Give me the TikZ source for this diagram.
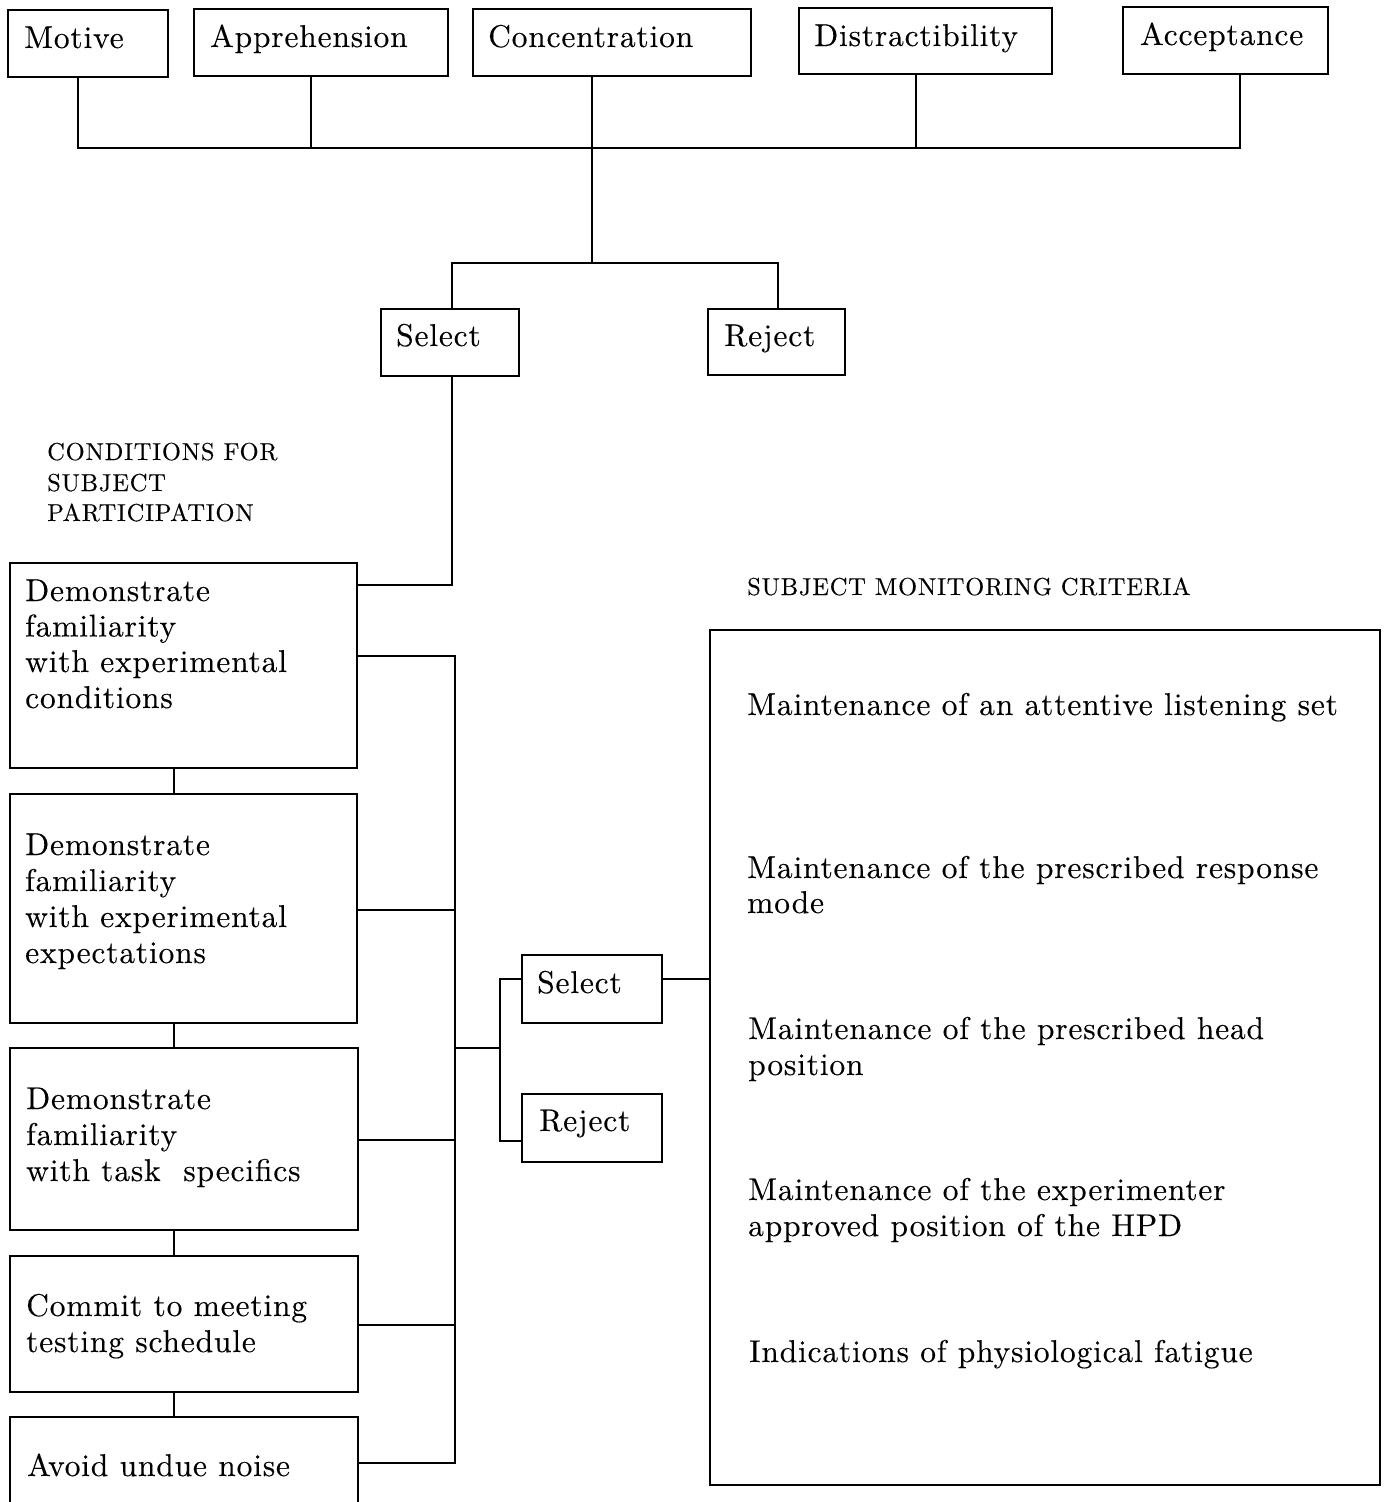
\documentclass[tikz,border=0pt]{standalone}
\usepackage{fontspec}
\newfontfamily\bodyfont{lmroman10-regular.otf}[LetterSpace=2.6,FakeBold=0.2]
\newfontfamily\labelfont{lmroman10-regular.otf}[LetterSpace=3.2,FakeBold=0.2]
\begin{document}
\begin{tikzpicture}[x=1pt,y=-1pt,
  box/.style={draw,line width=1.8pt,rectangle,inner sep=0pt,outer sep=0pt,anchor=north west},
  txt/.style={anchor=base west,inner sep=0pt,font=\bodyfont\fontsize{31.5}{36}\selectfont},
  lbl/.style={anchor=base west,inner sep=0pt,font=\labelfont\fontsize{24.5}{30}\selectfont},
  conn/.style={line width=1.8pt}]
\clip (0,0) rectangle (1387,1502);
% top boxes
\node[box,minimum width=160pt,minimum height=67pt] (motive) at (8,10) {};
\node[box,minimum width=254pt,minimum height=67pt] (appr) at (194,9) {};
\node[box,minimum width=278pt,minimum height=67pt] (conc) at (473,9) {};
\node[box,minimum width=253pt,minimum height=66pt] (distr) at (799,8) {};
\node[box,minimum width=205pt,minimum height=67pt] (accept) at (1123,7) {};
\node[txt] (tmotive) at (24,48) {Motive};
\node[txt] (tappr) at (210,47) {Apprehension};
\node[txt] (tconc) at (488,47) {Concentration};
\node[txt] (tdistr) at (814,46) {Distractibility};
\node[txt] (taccept) at (1140,45) {Acceptance};
% first select / reject
\node[box,minimum width=138pt,minimum height=67pt] (sel1) at (381,309) {};
\node[box,minimum width=137pt,minimum height=66pt] (rej1) at (708,309) {};
\node[txt] (tsel1) at (396,346) {Select};
\node[txt] (trej1) at (724,346) {Reject};
% labels
\node[lbl] (lc1) at (47,460) {CONDITIONS FOR};
\node[lbl] (lc2) at (47,491) {SUBJECT};
\node[lbl] (lc3) at (47,521) {PARTICIPATION};
\node[lbl] (lm) at (747,595) {SUBJECT MONITORING CRITERIA};
% left column
\node[box,minimum width=347pt,minimum height=205pt] (b1) at (10,563) {};
\node[box,minimum width=347pt,minimum height=229pt] (b2) at (10,794) {};
\node[box,minimum width=348pt,minimum height=182pt] (b3) at (10,1048) {};
\node[box,minimum width=348pt,minimum height=136pt] (b4) at (10,1256) {};
\node[box,minimum width=348pt,minimum height=100pt] (b5) at (10,1417) {};
\node[txt] (t1a) at (25,601) {Demonstrate};
\node[txt] (t1b) at (25,636.5) {familiarity};
\node[txt] (t1c) at (25,672) {with experimental};
\node[txt] (t1d) at (25,708) {conditions};
\node[txt] (t2a) at (25,855) {Demonstrate};
\node[txt] (t2b) at (25,891) {familiarity};
\node[txt] (t2c) at (25,927) {with experimental};
\node[txt] (t2d) at (25,963) {expectations};
\node[txt] (t3a) at (26,1109) {Demonstrate};
\node[txt] (t3b) at (26,1145) {familiarity};
\node[txt] (t3c) at (26,1181) {with task\ \ specifics};
\node[txt] (t4a) at (26,1316) {Commit to meeting};
\node[txt] (t4b) at (26,1352) {testing schedule};
\node[txt] (t5a) at (27,1476) {Avoid undue noise};
% second select / reject
\node[box,minimum width=140pt,minimum height=68pt] (sel2) at (522,955) {};
\node[box,minimum width=140pt,minimum height=68pt] (rej2) at (522,1094) {};
\node[txt] (tsel2) at (537,993) {Select};
\node[txt] (trej2) at (539,1131) {Reject};
% big box
\node[box,minimum width=670pt,minimum height=855pt] (big) at (710,630) {};
\node[txt] (m1) at (747,715) {Maintenance of an attentive listening set};
\node[txt] (m2a) at (747,878) {Maintenance of the prescribed response};
\node[txt] (m2b) at (747,913) {mode};
\node[txt] (m3a) at (748,1039) {Maintenance of the prescribed head};
\node[txt] (m3b) at (748,1075) {position};
\node[txt] (m4a) at (748,1200) {Maintenance of the experimenter};
\node[txt] (m4b) at (748,1236) {approved position of the HPD};
\node[txt] (m5) at (749,1362) {Indications of physiological fatigue};
% coordinates
\coordinate (busL) at (78,148);
\coordinate (bA) at (311,148);
\coordinate (bC) at (592,148);
\coordinate (bD) at (916,148);
\coordinate (busR) at (1240,148);
\coordinate (fork) at (592,263);
\coordinate (f1) at (452,263);
\coordinate (f2) at (778,263);
\coordinate (j1) at (452,585);
\coordinate (cx) at (174,0);
\coordinate (r1) at (455,656);
\coordinate (r2) at (455,910);
\coordinate (r3) at (455,1140);
\coordinate (r4) at (455,1325);
\coordinate (r5) at (455,1463);
\coordinate (rm) at (455,1048);
\coordinate (bk) at (500,1048);
\coordinate (bs) at (500,979);
\coordinate (br) at (500,1141);
% connectors
\draw[conn] (motive.south -| busL) -- (busL) -- (busR) -- (accept.south -| busR);
\draw[conn] (appr.south -| bA) -- (bA);
\draw[conn] (distr.south -| bD) -- (bD);
\draw[conn] (conc.south -| bC) -- (fork);
\draw[conn] (sel1.north -| f1) -- (f1) -- (f2) -- (rej1.north -| f2);
\draw[conn] (sel1.south -| j1) -- (j1) -- (b1.east |- j1);
\draw[conn] (b1.south -| cx) -- (b2.north -| cx);
\draw[conn] (b2.south -| cx) -- (b3.north -| cx);
\draw[conn] (b3.south -| cx) -- (b4.north -| cx);
\draw[conn] (b4.south -| cx) -- (b5.north -| cx);
\draw[conn] (b1.east |- r1) -- (r1) -- (r5) -- (b5.east |- r5);
\draw[conn] (b2.east |- r2) -- (r2);
\draw[conn] (b3.east |- r3) -- (r3);
\draw[conn] (b4.east |- r4) -- (r4);
\draw[conn] (rm) -- (bk);
\draw[conn] (sel2.west |- bs) -- (bs) -- (br) -- (rej2.west |- br);
\draw[conn] (sel2.east |- bs) -- (big.west |- bs);
\end{tikzpicture}
\end{document}
